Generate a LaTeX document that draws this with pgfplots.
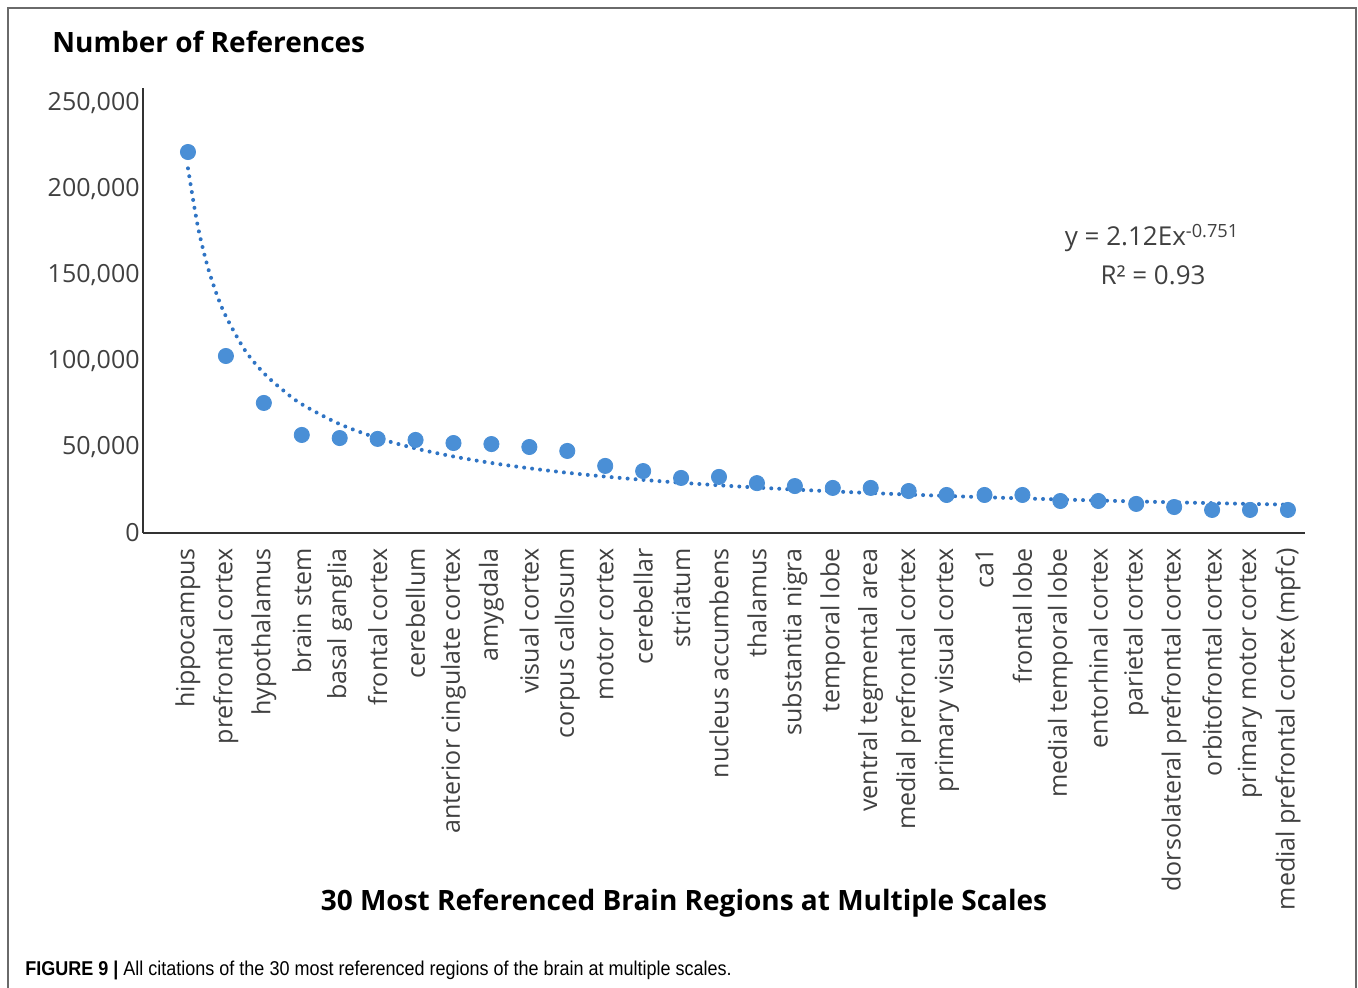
\documentclass[border=0pt]{standalone}
\usepackage{fontspec}
\setmainfont{Open Sans}
\newfontfamily\capfont[FakeStretch=0.9]{Liberation Sans}
\usepackage{pgfplots}
\pgfplotsset{compat=1.18}
\usepackage{pgfplotstable}
\definecolor{pt}{HTML}{4A8FD6}
\definecolor{tl}{HTML}{2F74C4}
\definecolor{lab}{HTML}{404040}
\definecolor{frm}{HTML}{6A6A6A}

\pgfplotstableread{
x y
1 221500
2 102900
3 75600
4 57000
5 55200
6 54700
7 54100
8 52300
9 51700
10 50000
11 47700
12 39000
13 36000
14 32000
15 32600
16 29000
17 27300
18 26200
19 26200
20 24400
21 22100
22 22100
23 22100
24 18600
25 18600
26 16900
27 15100
28 13400
29 13400
30 13400
}\refs

\pgfplotstableread{
x y
1 212000
1.25 179300
1.5 156300
1.75 139200
2 125970
2.5 106300
3 92900
3.5 83100
4 74850
5 63300
6 55200
7 49160
8 44480
9 40710
10 37620
11 35020
12 32800
13 30890
14 29210
15 27740
16 26430
17 25250
18 24190
19 23230
20 22350
21 21540
22 20810
23 20120
24 19490
25 18900
26 18350
27 17840
28 17360
29 16910
30 16480
}\trend

\begin{document}
\begin{tikzpicture}[x=0.5pt,y=0.5pt]
\path[use as bounding box] (0,0) rectangle (1358,988);
\draw[frm, line width=0.8pt] (8,0) -- (8,980) -- (1356,980) -- (1356,0);
\begin{axis}[
  at={(71.5pt,227.5pt)}, anchor=south west,
  scale only axis, width=581pt, height=222.5pt,
  xmin=-0.186, xmax=30.45, ymin=0, ymax=258720,
  axis x line=bottom, axis y line=left,
  axis line style={draw=black!80, line width=1pt, -},
  major tick length=0pt,
  xtick={1,...,30},
  xticklabels={hippocampus,prefrontal cortex,hypothalamus,brain stem,basal ganglia,frontal cortex,cerebellum,anterior cingulate cortex,amygdala,visual cortex,corpus callosum,motor cortex,cerebellar,striatum,nucleus accumbens,thalamus,substantia nigra,temporal lobe,ventral tegmental area,medial prefrontal cortex,primary visual cortex,ca1,frontal lobe,medial temporal lobe,entorhinal cortex,parietal cortex,dorsolateral prefrontal cortex,orbitofrontal cortex,primary motor cortex,medial prefrontal cortex (mpfc)},
  xticklabel style={rotate=90, anchor=east, inner xsep=7.5pt, inner ysep=0pt, font=\fontsize{12.5}{14}\selectfont, text=lab},
  ytick={0,50000,100000,150000,200000,250000},
  scaled y ticks=false,
  /pgf/number format/fixed,
  /pgf/number format/1000 sep={,},
  /pgf/number format/assume math mode=true,
  yticklabel style={anchor=east, inner xsep=1.5pt, font=\fontsize{12.5}{14}\selectfont, text=lab},
  clip=false,
]
\addplot[tl, line width=2pt, line cap=round, dash pattern=on 0pt off 4pt, smooth] table[x=x,y=y] {\trend};
\addplot[only marks, mark=*, mark size=3.8pt, mark options={fill=pt, draw=pt}] table[x=x,y=y] {\refs};
\end{axis}
\node[anchor=west, inner sep=0pt, font=\fontsize{14}{16}\selectfont\bfseries] at (52,946) {Number of References};
\node[inner sep=0pt, font=\fontsize{14}{16}\selectfont\bfseries] at (684,85) {30 Most Referenced Brain Regions at Multiple Scales};
\node[inner sep=0pt, text=lab, font=\fontsize{13}{15}\selectfont] at (1152,750) {y = 2.12Ex\textsuperscript{-0.751}};
\node[inner sep=0pt, text=lab, font=\fontsize{13}{15}\selectfont] at (1153,713) {R² = 0.93};
\node[anchor=west, inner sep=0pt, font=\capfont\fontsize{10}{12}\selectfont] at (25,18) {\textbf{FIGURE 9 |} All citations of the 30 most referenced regions of the brain at multiple scales.};
\end{tikzpicture}
\end{document}
